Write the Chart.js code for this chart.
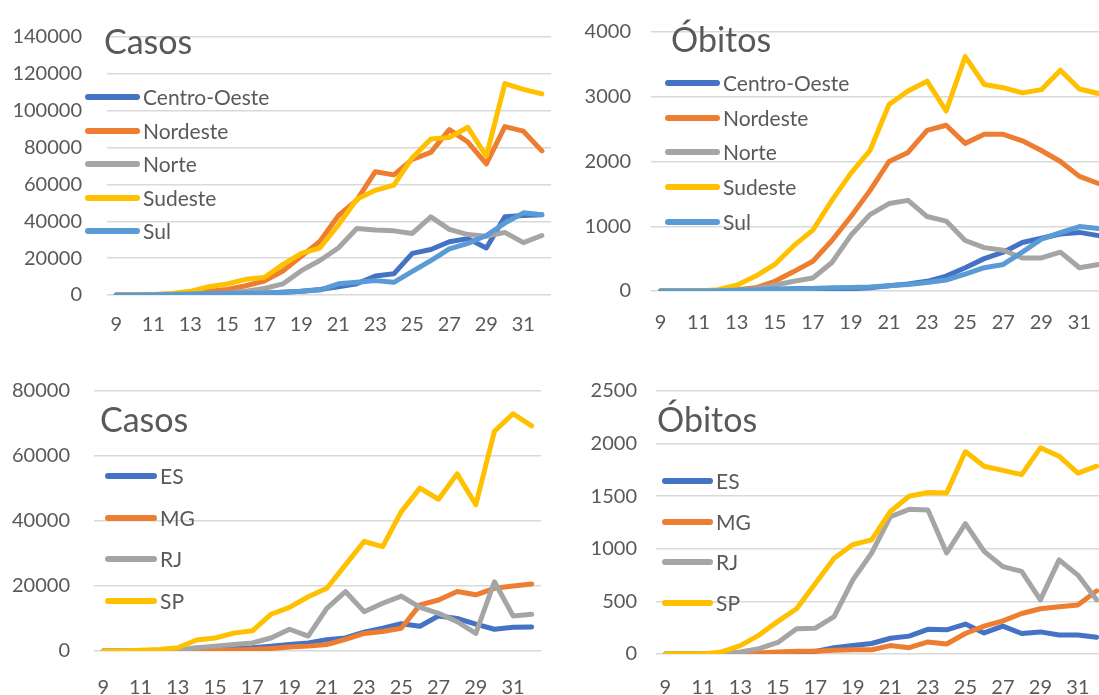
<!DOCTYPE html>
<html>
<head>
<meta charset="utf-8">
<script src="https://cdn.jsdelivr.net/npm/chart.js@4.4.0/dist/chart.umd.min.js"></script>
<style>
  html, body { margin: 0; padding: 0; background: #fff; overflow: hidden; }
  body { width: 1099px; height: 695px; position: relative; font-family: Lato, "Open Sans", sans-serif; color: #595959; }
  .panel { position: absolute; }
  .title { position: absolute; font-size: 34px; line-height: 1; color: #595959; white-space: nowrap; }
  .leg { position: absolute; font-size: 21px; line-height: 24px; white-space: nowrap; color: #595959; }
  .leg i { position: absolute; height: 6px; border-radius: 3px; }
</style>
</head>
<body>

<script>
// semanas epidemiológicas
var weeks = [9, 10, 11, 12, 13, 14, 15, 16, 17, 18, 19, 20, 21, 22, 23, 24, 25, 26, 27, 28, 29, 30, 31, 32];
var regions = ['Centro-Oeste', 'Nordeste', 'Norte', 'Sudeste', 'Sul'];
var states = ['ES', 'MG', 'RJ', 'SP'];

// casos por região
var casosCentroOeste = [0, 0, 50, 200, 400, 600, 700, 800, 1000, 1500, 2000, 3000, 4400, 6100, 10300, 11500, 22600, 24700, 28900, 30600, 25500, 42400, 43200, 43600];
var casosNordeste = [0, 50, 200, 600, 1200, 2000, 3000, 5000, 7500, 13000, 21000, 29000, 43000, 51500, 66900, 65200, 73600, 77400, 89700, 83000, 71100, 91400, 88900, 78200];
var casosNorte = [0, 0, 50, 150, 300, 600, 1000, 2000, 3500, 6000, 13200, 18700, 25500, 36100, 35300, 34800, 33400, 42400, 35600, 32800, 31900, 34000, 28400, 32300];
var casosSudeste = [0, 100, 300, 800, 2000, 4500, 6000, 8500, 9500, 16500, 22600, 25500, 38000, 52000, 56800, 59600, 74500, 84600, 85500, 91000, 75300, 114700, 111600, 109100];
var casosSul = [0, 0, 100, 300, 600, 800, 900, 1000, 1100, 1500, 2000, 2700, 6100, 6900, 7800, 6900, 12800, 18700, 25000, 28000, 32300, 39000, 44600, 43600];

// óbitos por região
var obitosCentroOeste = [0, 0, 0, 0, 0, 5, 10, 15, 20, 25, 35, 50, 80, 110, 150, 230, 360, 500, 600, 750, 815, 880, 905, 855];
var obitosNordeste = [0, 0, 0, 5, 20, 50, 150, 300, 460, 780, 1150, 1550, 2000, 2140, 2480, 2560, 2280, 2420, 2420, 2320, 2170, 2000, 1770, 1660];
var obitosNorte = [0, 0, 0, 0, 10, 30, 90, 150, 200, 440, 860, 1180, 1350, 1400, 1150, 1080, 780, 670, 630, 510, 510, 600, 360, 410];
var obitosSudeste = [0, 0, 0, 20, 90, 230, 410, 700, 940, 1400, 1820, 2170, 2880, 3090, 3240, 2780, 3620, 3190, 3140, 3060, 3110, 3410, 3120, 3050];
var obitosSul = [0, 0, 0, 5, 10, 20, 30, 40, 40, 50, 55, 60, 80, 100, 130, 170, 260, 360, 410, 600, 800, 900, 995, 965];

// casos sudeste por estado
var casosES = [0, 0, 0, 50, 200, 400, 600, 800, 1000, 1500, 2000, 2500, 3500, 4000, 5800, 7000, 8400, 7600, 10800, 10000, 8300, 6700, 7300, 7400];
var casosMG = [0, 0, 0, 0, 50, 100, 200, 300, 500, 800, 1200, 1500, 2000, 3600, 5400, 6000, 7000, 14200, 15700, 18300, 17300, 19300, 20000, 20600];
var casosRJ = [0, 0, 0, 100, 300, 1000, 1500, 2000, 2500, 4000, 6700, 4600, 13100, 18300, 12100, 14700, 16900, 13400, 11600, 9000, 5400, 21300, 10800, 11300];
var casosSP = [0, 0, 200, 500, 1000, 3400, 4000, 5500, 6200, 11300, 13400, 16700, 19300, 26500, 33700, 32100, 42900, 50100, 46700, 54500, 45000, 67600, 73000, 69300];

// óbitos sudeste por estado
var obitosES = [0, 0, 0, 0, 0, 5, 10, 15, 25, 60, 80, 100, 150, 170, 235, 230, 285, 200, 265, 195, 210, 180, 180, 160];
var obitosMG = [0, 0, 0, 0, 0, 10, 20, 25, 25, 35, 40, 40, 80, 60, 115, 95, 195, 265, 315, 385, 430, 450, 465, 600];
var obitosRJ = [0, 0, 0, 0, 20, 50, 110, 240, 245, 355, 705, 960, 1305, 1375, 1370, 960, 1240, 975, 830, 785, 515, 895, 750, 515];
var obitosSP = [0, 0, 0, 20, 80, 180, 310, 430, 670, 910, 1040, 1085, 1355, 1500, 1535, 1530, 1925, 1785, 1745, 1705, 1960, 1880, 1720, 1785];

var cores = ['#4472C4', '#ED7D31', '#A5A5A5', '#FFC000', '#5B9BD5'];

// monta um painel: caixa do canvas + área do gráfico
function painel(p) {
  var box = document.createElement('div');
  box.className = 'panel';
  box.style.left = p.x + 'px';
  box.style.top = p.y + 'px';
  box.style.width = p.w + 'px';
  box.style.height = p.h + 'px';
  var cv = document.createElement('canvas');
  box.appendChild(cv);
  document.body.appendChild(box);

  var n = p.series.length;
  var datasets = p.series.map(function (s, i) {
    return {
      label: p.names[i],
      data: s,
      borderColor: cores[i],
      backgroundColor: cores[i],
      borderWidth: 5,
      pointRadius: 0,
      tension: 0,
      fill: false,
      borderJoinStyle: 'round',
      borderCapStyle: 'round',
      order: n - 1 - i
    };
  });

  new Chart(cv, {
    type: 'line',
    data: { labels: weeks, datasets: datasets },
    options: {
      responsive: true,
      maintainAspectRatio: false,
      animation: false,
      events: [],
      layout: { padding: { top: p.top, right: p.w - p.right, bottom: 0, left: 0 } },
      plugins: { legend: { display: false }, tooltip: { enabled: false } },
      scales: {
        x: {
          offset: true,
          grid: { display: false, drawTicks: false },
          border: { display: false },
          afterFit: function (s) { s.height = p.h - p.bottom; },
          ticks: {
            autoSkip: false,
            maxRotation: 0,
            padding: p.xpad,
            color: '#595959',
            font: { family: 'Lato', size: 20 },
            callback: function (v, i) { return i % 2 === 0 ? weeks[i] : ''; }
          }
        },
        y: {
          min: 0,
          max: p.max,
          grid: { color: '#d9d9d9', lineWidth: 1.5, drawTicks: false },
          border: { display: false },
          afterFit: function (s) { s.width = p.left; },
          ticks: {
            stepSize: p.step,
            padding: p.ypad,
            color: '#595959',
            font: { family: 'Lato', size: 20 },
            callback: function (v) { return String(v); }
          }
        }
      }
    }
  });

  // título
  var t = document.createElement('div');
  t.className = 'title';
  t.textContent = p.title;
  t.style.left = p.tx + 'px';
  t.style.top = p.ty + 'px';
  document.body.appendChild(t);

  // legenda
  p.names.forEach(function (nm, i) {
    var d = document.createElement('div');
    d.className = 'leg';
    d.style.left = p.lx + 'px';
    d.style.top = (p.ly + i * p.lstep - 12) + 'px';
    d.style.paddingLeft = (p.lw + 3) + 'px';
    var sw = document.createElement('i');
    sw.style.left = '0px';
    sw.style.top = '9px';
    sw.style.width = p.lw + 'px';
    sw.style.background = cores[i];
    d.appendChild(sw);
    d.appendChild(document.createTextNode(nm));
    document.body.appendChild(d);
  });
}

painel({
  x: 0, y: 0, w: 560, h: 345, left: 107, right: 554, top: 19, bottom: 295,
  max: 140000, step: 20000, ypad: 25, xpad: 18,
  series: [casosCentroOeste, casosNordeste, casosNorte, casosSudeste, casosSul], names: regions,
  title: 'Casos', tx: 104, ty: 24, lx: 85, ly: 97, lstep: 33.5, lw: 55
});
painel({
  x: 560, y: 0, w: 560, h: 345, left: 91, right: 548, top: 22, bottom: 291,
  max: 4000, step: 1000, ypad: 20, xpad: 20,
  series: [obitosCentroOeste, obitosNordeste, obitosNorte, obitosSudeste, obitosSul], names: regions,
  title: 'Óbitos', tx: 671, ty: 22, lx: 665, ly: 83, lstep: 34.7, lw: 55
});
painel({
  x: 0, y: 345, w: 560, h: 350, left: 94, right: 541, top: 46, bottom: 306,
  max: 80000, step: 20000, ypad: 24, xpad: 25,
  series: [casosES, casosMG, casosRJ, casosSP], names: states,
  title: 'Casos', tx: 100, ty: 402, lx: 105, ly: 476, lstep: 41.5, lw: 52
});
painel({
  x: 560, y: 345, w: 560, h: 350, left: 96, right: 546, top: 46, bottom: 309,
  max: 2500, step: 500, ypad: 19, xpad: 22,
  series: [obitosES, obitosMG, obitosRJ, obitosSP], names: states,
  title: 'Óbitos', tx: 657, ty: 402, lx: 662, ly: 481, lstep: 40.5, lw: 51
});
</script>
</body>
</html>
